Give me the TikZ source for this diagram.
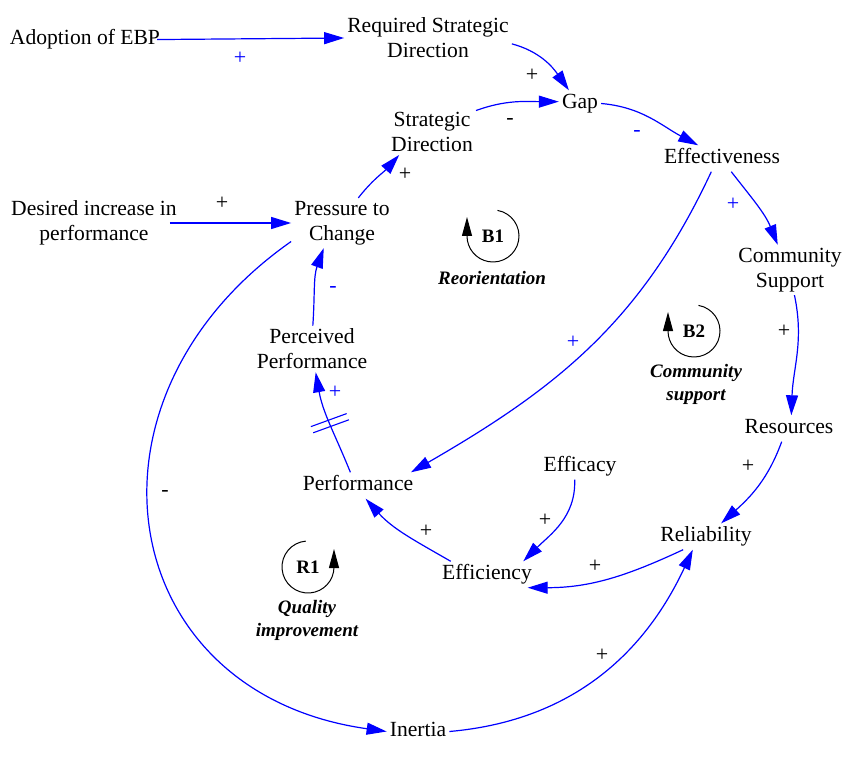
\documentclass[tikz,border=0pt]{standalone}
\usepackage{fontspec}
\setmainfont{Liberation Serif}
\usetikzlibrary{arrows.meta,calc}
\definecolor{lnk}{RGB}{0,0,255}
\begin{document}
\begin{tikzpicture}[x=1pt,y=1pt,
  var/.style={font=\fontsize{21.6}{25}\selectfont, inner sep=3pt, text height=15pt, text depth=5pt, yshift=-2.5pt},
  vartwo/.style={font=\fontsize{21.6}{25}\selectfont, inner sep=3pt, align=center, yshift=-2pt},
  link/.style={draw=lnk, line width=1.2pt, -{Triangle[length=20pt,width=12pt]}},
  pol/.style={font=\fontsize{22}{22}\selectfont, inner sep=0pt},
  polb/.style={pol, text=lnk},
  loopname/.style={font=\fontsize{19}{23}\selectfont\bfseries\itshape, align=center, inner sep=0pt},
  looplbl/.style={font=\fontsize{19}{23}\selectfont\bfseries, inner sep=0pt},
  looparr/.style={draw=black, line width=1pt, -{Triangle[length=19pt,width=10pt]}},
  delaymark/.style={draw=lnk, line width=1.1pt}
]
\useasboundingbox (0,0) rectangle (843,-759);

% variables
\node[var] (adopt) at (85,-37) {Adoption of EBP};
\node[vartwo] (rsd) at (428,-36) {Required Strategic\\Direction};
\node[var] (gap) at (580,-101) {Gap};
\node[vartwo] (sd) at (432,-130) {Strategic\\Direction};
\node[var] (eff) at (722,-156) {Effectiveness};
\node[vartwo] (des) at (94,-221) {Desired increase in\\performance};
\node[vartwo] (press) at (342,-221) {Pressure to\\Change};
\node[vartwo] (cs) at (790,-268) {Community\\Support};
\node[vartwo] (perc) at (312,-347) {Perceived\\Performance};
\node[var] (res) at (789,-426) {Resources};
\node[var] (efficacy) at (580,-464) {Efficacy};
\node[var] (perf) at (358,-483) {Performance};
\node[var] (rel) at (706,-534) {Reliability};
\node[var] (effi) at (487,-572) {Efficiency};
\node[var] (inertia) at (418,-729) {Inertia};

% links
\draw[link, shorten <=-6pt] (adopt.east) -- (rsd.west);
\node[polb] at (240,-58) {+};

\draw[link] (rsd.-4) to[out=-15,in=125] (gap.130);
\node[pol] at (532,-75) {+};

\draw[link] (sd.26) to[out=20,in=180] (gap.175);
\node[pol] at (510,-121) {-};

\draw[link] (gap.0) to[out=-5,in=152] (eff.151);
\node[polb] at (637,-133) {-};

\draw[link] (eff.-55) to[out=-52,in=112] (cs.116);
\node[polb] at (733,-204) {+};

\draw[link] (cs.-80) to[out=-78,in=88] (res.80);
\node[pol] at (784,-331) {+};

\draw[link] (res.-119) to[out=-110,in=42] (rel.41);
\node[pol] at (748,-466) {+};

\draw[link] (rel.210) to[out=205,in=0] (effi.-18);
\node[pol] at (595,-566) {+};

\draw[link] (efficacy.-112) to[out=-88,in=45] (effi.20);
\node[pol] at (545,-520) {+};

\draw[link] (effi.160) to[out=150,in=-48] (perf.-60);
\node[pol] at (426,-531) {+};

\draw[link] (perf.120) to[out=112,in=-80] coordinate[pos=0.5] (dly) (perc.-81);
\draw[delaymark] ($(dly)+(200:19)+(110:3.3)$) -- ($(dly)+(20:19)+(110:3.3)$);
\draw[delaymark] ($(dly)+(200:19)+(-70:3.3)$) -- ($(dly)+(20:19)+(-70:3.3)$);
\node[polb] at (335,-392) {+};

\draw[link] (perc.88) to[out=86,in=-110] (press.234);
\node[polb] at (333,-289) {-};

\draw[link] (press.57) to[out=52,in=228] (sd.215);
\node[pol] at (405,-174) {+};

\draw[link, shorten <=-10pt] (des.east) -- (press.west);
\node[pol] at (222,-203) {+};

\draw[link] (eff.231) to[out=245,in=30] (perf.14);
\node[polb] at (573,-342) {+};

\draw[link] (press.200) .. controls +(215:275) and +(172:275) .. (inertia.west);
\node[pol] at (165,-493) {-};

\draw[link] (inertia.east) to[out=5,in=-115] (rel.-135);
\node[pol] at (602,-655) {+};

% loop markers
\node[looplbl] (b1) at (493,-236) {B1};
\draw[looparr] ($(b1.center)+(80:26)$) arc[start angle=80, end angle=-180, radius=26] -- ++(0,19);
\node[loopname] (b1n) at (492,-278) {Reorientation};

\node[looplbl] (b2) at (694,-331) {B2};
\draw[looparr] ($(b2.center)+(80:26)$) arc[start angle=80, end angle=-180, radius=26] -- ++(0,19);
\node[loopname] (b2n) at (696,-384) {Community\\support};

\node[looplbl] (r1) at (308,-567) {R1};
\draw[looparr] ($(r1.center)+(95:26)$) arc[start angle=95, end angle=360, radius=26] -- ++(0,18);
\node[loopname] (r1n) at (307,-620) {Quality\\improvement};
\end{tikzpicture}
\end{document}
